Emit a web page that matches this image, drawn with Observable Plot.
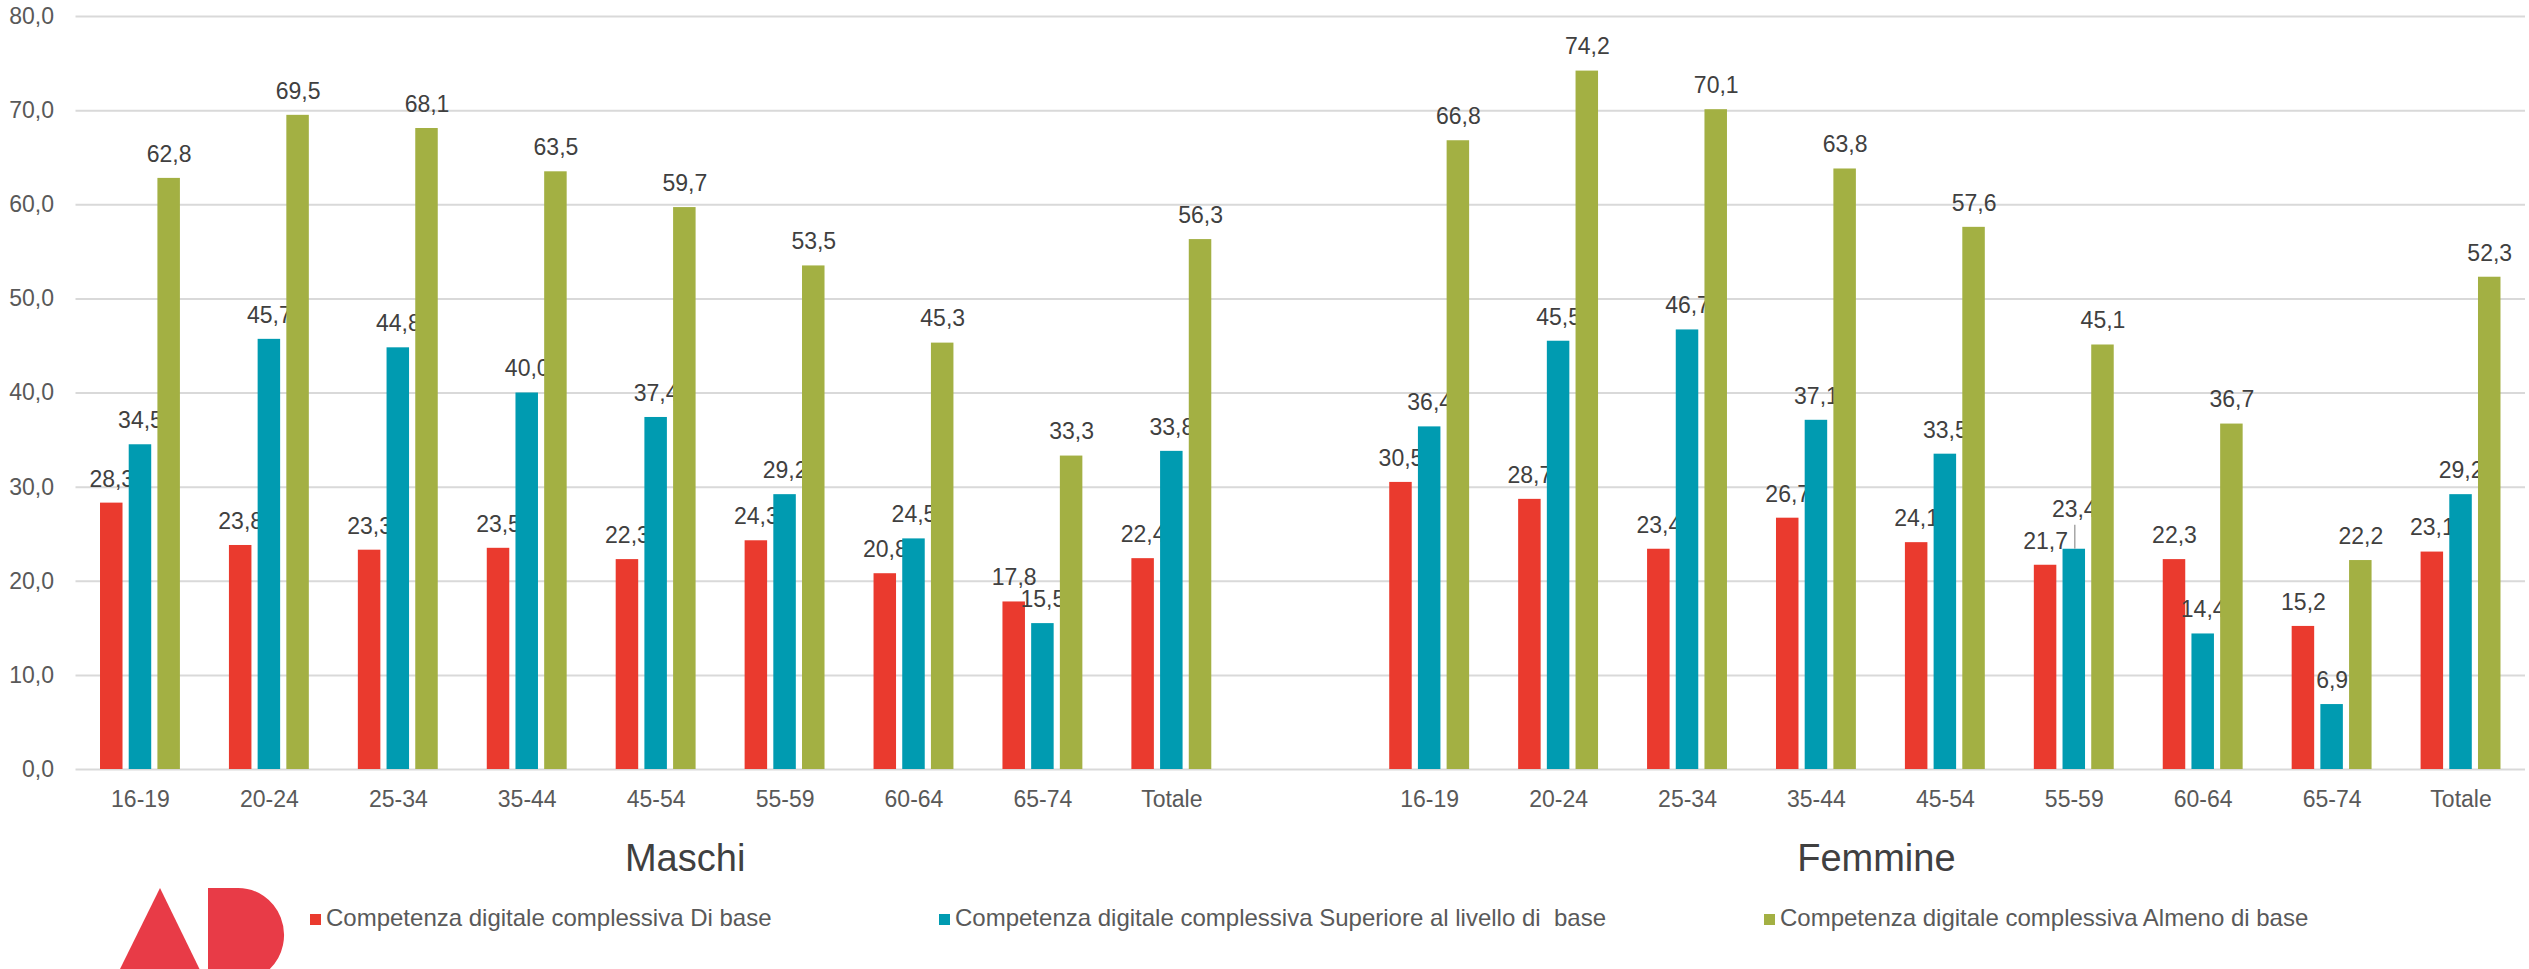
<!DOCTYPE html>
<html>
<head>
<meta charset="utf-8">
<script src="https://cdn.jsdelivr.net/npm/d3@7"></script>
<script src="https://cdn.jsdelivr.net/npm/@observablehq/plot@0.6"></script>
<style>
  html, body { margin: 0; padding: 0; background: #fff; }
  body { font-family: "Liberation Sans", Arial, sans-serif; }
  #wrap { position: relative; width: 2529px; height: 969px; overflow: hidden; }
  #chart svg { display: block; }
  #logo { position: absolute; left: 0; top: 880px; }
  #legend { position: absolute; left: 0; top: 903px; width: 2529px; height: 30px; }
  .item { position: absolute; top: 0; height: 30px; display: flex; align-items: center; white-space: pre; font-size: 24px; color: #595959; }
  .sw { width: 11px; height: 11px; margin-right: 5px; margin-top: 2px; }
</style>
</head>
<body>
<div id="wrap">
  <div id="chart"></div>
  <svg id="logo" width="320" height="89" viewBox="0 880 320 89">
    <polygon points="160,888 120,969 199.5,969" fill="#e83b47"></polygon>
    <path d="M208,888 L238,888 A46,47 0 0 1 269.8,969 L208,969 Z" fill="#e83b47"></path>
  </svg>
  <div id="legend"></div>
</div>
<script>
// ---- data ----
const ageGroups = ["16-19", "20-24", "25-34", "35-44", "45-54", "55-59", "60-64", "65-74", "Totale"];
const sexes = ["Maschi", "Femmine"];
const seriesNames = [
  "Competenza digitale complessiva Di base",
  "Competenza digitale complessiva Superiore al livello di  base",
  "Competenza digitale complessiva Almeno di base"
];
const seriesColors = ["#ea3a2e", "#009bb1", "#a3b043"];
const maschiDiBase     = [28.3, 23.8, 23.3, 23.5, 22.3, 24.3, 20.8, 17.8, 22.4];
const maschiSuperiore  = [34.5, 45.7, 44.8, 40.0, 37.4, 29.2, 24.5, 15.5, 33.8];
const maschiAlmeno     = [62.8, 69.5, 68.1, 63.5, 59.7, 53.5, 45.3, 33.3, 56.3];
const femmineDiBase    = [30.5, 28.7, 23.4, 26.7, 24.1, 21.7, 22.3, 15.2, 23.1];
const femmineSuperiore = [36.4, 45.5, 46.7, 37.1, 33.5, 23.4, 14.4, 6.9, 29.2];
const femmineAlmeno    = [66.8, 74.2, 70.1, 63.8, 57.6, 45.1, 36.7, 22.2, 52.3];
const yTicks = [0, 10, 20, 30, 40, 50, 60, 70, 80];

// ---- table ----
const values = {
  Maschi: [maschiDiBase, maschiSuperiore, maschiAlmeno],
  Femmine: [femmineDiBase, femmineSuperiore, femmineAlmeno]
};
const GAP = "gap";
const slotDomain = [
  ...ageGroups.map(a => "Maschi|" + a),
  GAP,
  ...ageGroups.map(a => "Femmine|" + a)
];
const rows = [];
for (const sex of sexes) {
  ageGroups.forEach((age, i) => {
    seriesNames.forEach((s, k) => {
      const v = values[sex][k][i];
      // a label collides with its left neighbour's label when the two values are very close
      const diff = v - values[sex][0][i];
      const raised = k === 1 && diff > 0 && diff < 2;
      rows.push({slot: sex + "|" + age, sex, age, series: k, value: v, raised});
    });
  });
}

const fmt = d => d.toFixed(1).replace(".", ",");
const W = 2529, H = 880;
const ML = 75.5, MR = 4;
const step = (W - ML - MR) / slotDomain.length;
const barW = 22.5;
const inset = (step - barW) / 2;
const offsets = [-28.7, 0, 28.7];

const marks = [
  Plot.gridY(yTicks, {stroke: "#d9d9d9", strokeWidth: 2, strokeOpacity: 1})
];
seriesNames.forEach((s, k) => {
  const d = rows.filter(r => r.series === k);
  marks.push(Plot.barY(d, {
    x: "slot", y: "value", fill: seriesColors[k], dx: offsets[k],
    insetLeft: inset, insetRight: inset
  }));
  marks.push(Plot.text(d.filter(r => !r.raised), {
    x: "slot", y: "value", text: r => fmt(r.value), dx: offsets[k], dy: -24,
    fontSize: 23, fill: "#404040"
  }));
  const raised = d.filter(r => r.raised);
  if (raised.length) {
    marks.push(Plot.text(raised, {
      x: "slot", y: "value", text: r => fmt(r.value), dx: offsets[k], dy: -40,
      fontSize: 23, fill: "#404040"
    }));
    marks.push(Plot.ruleX(raised, {
      x: "slot", y1: "value", y2: "value", dx: offsets[k] + 0.5,
      insetBottom: 24, stroke: "#a6a6a6", strokeWidth: 1.5
    }));
  }
});
marks.push(
  Plot.axisY(yTicks, {
    tickSize: 0, tickPadding: 22, tickFormat: fmt, fontSize: 23, fill: "#595959", label: null
  }),
  Plot.axisX({
    tickSize: 0, tickPadding: 21, fontSize: 23, fill: "#595959", label: null,
    tickFormat: d => d === GAP ? "" : d.split("|")[1]
  }),
  Plot.text([{slot: "Maschi|45-54", label: "Maschi"}], {
    x: "slot", text: "label", frameAnchor: "bottom", lineAnchor: "bottom",
    dy: 101, dx: 29, fontSize: 38, fill: "#404040"
  }),
  Plot.text([{slot: "Femmine|45-54", label: "Femmine"}], {
    x: "slot", text: "label", frameAnchor: "bottom", lineAnchor: "bottom",
    dy: 101, dx: -69, fontSize: 38, fill: "#404040"
  })
);

const chart = Plot.plot({
  width: W,
  height: H,
  marginTop: 16,
  marginBottom: H - 769,
  marginLeft: ML,
  marginRight: MR,
  style: {fontFamily: "'Liberation Sans', Arial, sans-serif", background: "#fff"},
  x: {type: "band", domain: slotDomain, padding: 0, round: false},
  y: {domain: [0, 80]},
  marks
});
document.getElementById("chart").appendChild(chart);

// ---- legend ----
const legendLeft = [310, 939, 1764];
const legend = document.getElementById("legend");
seriesNames.forEach((s, k) => {
  const it = document.createElement("div");
  it.className = "item";
  it.style.left = legendLeft[k] + "px";
  const sw = document.createElement("span");
  sw.className = "sw";
  sw.style.background = seriesColors[k];
  const t = document.createElement("span");
  t.textContent = s;
  it.appendChild(sw);
  it.appendChild(t);
  legend.appendChild(it);
});
</script>
</body>
</html>
